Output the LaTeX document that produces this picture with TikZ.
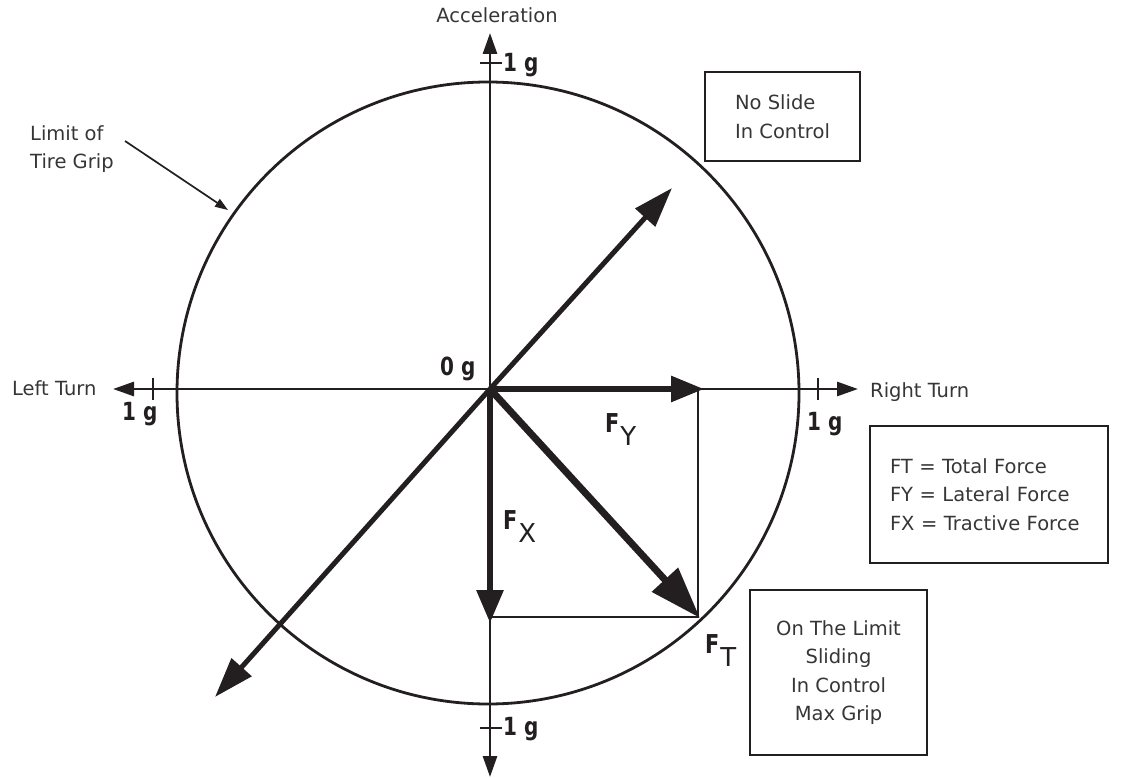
\documentclass[tikz,border=0pt]{standalone}
\usepackage{fontspec}
\setmainfont{DejaVu Sans}
\newfontfamily\narrowsans[FakeStretch=0.8]{DejaVu Sans}
\usetikzlibrary{arrows.meta, positioning, calc}
\definecolor{mInk}{HTML}{231F20}
\definecolor{mText}{HTML}{363636}

\begin{document}
\begin{tikzpicture}[x=1pt, y=-1pt,
    txt/.style={text=mText, inner sep=0pt, font=\fontsize{19.5}{28.5}\selectfont},
    gval/.style={text=mInk, inner sep=0pt, font=\narrowsans\bfseries\fontsize{25}{28}\selectfont},
    flabel/.style={text=mInk, inner sep=0pt, font=\fontsize{26}{30}\selectfont},
    infobox/.style={draw=mInk, line width=2.6pt, txt},
    axisline/.style={draw=mInk, line width=2.8pt,
      {Triangle[length=21pt,width=14pt]}-{Triangle[length=21pt,width=14pt]}},
    vec/.style={draw=mInk, line width=6pt, -{Triangle[length=33pt,width=25pt]}},
    thin/.style={draw=mInk, line width=1.6pt}]
    \useasboundingbox (0,0) rectangle (1126,778);
    % points of the diagram, in pixels
    \coordinate (O) at (490,389);
    \coordinate (accTip) at (490,33);
    \coordinate (brkTip) at (490,777);
    \coordinate (leftTip) at (113,389);
    \coordinate (rightTip) at (858,389);
    \coordinate (FY) at (704,389);
    \coordinate (FX) at (490,623);
    \coordinate (FT) at (700,618);
    \coordinate (corner) at (698,617);
    \coordinate (upTip) at (672,188);
    \coordinate (downTip) at (215,697);
    % limit of grip circle
    \draw[mInk, line width=2.8pt] (488,393) circle (311pt);
    % axes and 1g ticks
    \draw[axisline] (brkTip) -- (accTip);
    \draw[axisline] (leftTip) -- (rightTip);
    \foreach \y in {63,728} \draw[mInk, line width=1.6pt] (480,\y) -- (502,\y);
    \foreach \x in {153,818} \draw[mInk, line width=1.6pt] (\x,378) -- (\x,400);
    \node[gval, anchor=base west] (topG) at (503,72) {1 g};
    \node[gval, anchor=base west] (botG) at (503,735) {1 g};
    \node[gval, anchor=base west] (leftG) at (122,420) {1 g};
    \node[gval, anchor=base west] (rightG) at (807,430) {1 g};
    \node[gval, anchor=base west] (zeroG) at (440,375) {0 g};
    \node[txt, anchor=base] (acc) at (497,23) {Acceleration};
    \node[txt, anchor=base west] (leftTurn) at (12,395) {Left Turn};
    \node[txt, anchor=base west] (rightTurn) at (870,397) {Right Turn};
    % components
    \draw[thin] (698,389) -- (corner) -- (490,617);
    \draw[vec] (O) -- (FY);
    \draw[vec, -{Triangle[length=33pt,width=26pt]}] (O) -- (FX);
    \draw[vec, line width=7pt, -{Triangle[length=52pt,width=34pt]}] (O) -- (FT);
    \draw[vec, line width=5pt, -{Triangle[length=40pt,width=26pt]}] (O) -- (upTip);
    \draw[vec, line width=5pt, -{Triangle[length=40pt,width=26pt]}] (O) -- (downTip);
    \node[flabel, anchor=base west] (lblFY) at (605,432) {{\narrowsans\bfseries F}\kern1pt\raisebox{-13.5pt}{Y}};
    \node[flabel, anchor=base west] (lblFX) at (503,529) {{\narrowsans\bfseries F}\kern1pt\raisebox{-13.5pt}{X}};
    \node[flabel, anchor=base west] (lblFT) at (705,653) {{\narrowsans\bfseries F}\kern1pt\raisebox{-13.5pt}{T}};
    % grip label and pointer
    \node[txt, anchor=north west, align=left] (grip) at (30,125) {Limit of\\Tire Grip};
    \coordinate (gripStart) at (125,141);
    \coordinate (gripEnd) at (228,210);
    \draw[mInk, line width=1.7pt, -{Triangle[length=13pt,width=9pt]}] (gripStart) -- (gripEnd);
    % boxes
    \node[infobox, minimum width=155pt, minimum height=89pt, align=left] (noSlide)
      at (782.5,116.5) {No Slide\\In Control};
    \node[infobox, minimum width=238pt, minimum height=137pt, text width=198pt,
      inner xsep=20pt, align=left] (legend) at (989,494.5)
      {FT = Total Force\\FY = Lateral Force\\FX = Tractive Force};
    \node[infobox, minimum width=177pt, minimum height=165pt, align=center] (onLimit)
      at (838.5,672.5) {On The Limit\\Sliding\\In Control\\Max Grip};
\end{tikzpicture}
\end{document}
